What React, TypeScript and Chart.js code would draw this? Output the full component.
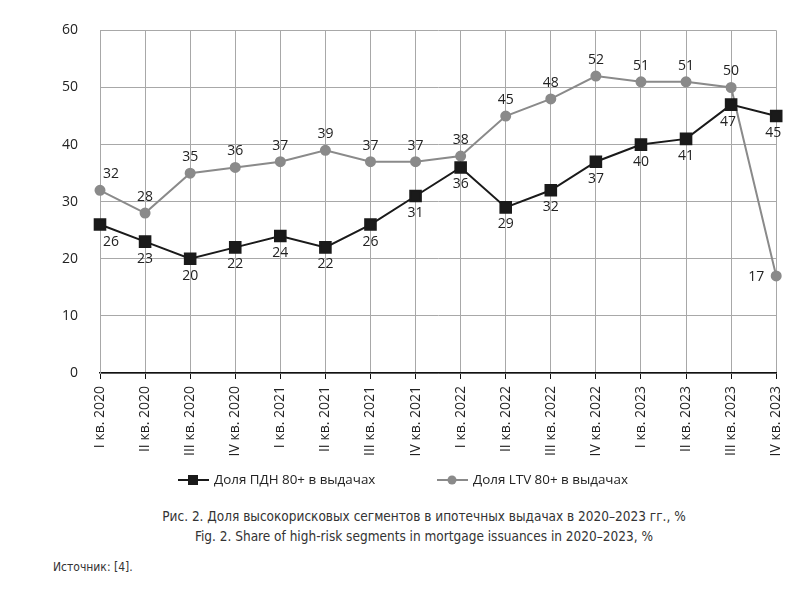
import { useEffect, useRef } from 'react';
import { Chart, registerables } from 'chart.js';

Chart.register(...registerables);

const quarters = [
  'I кв. 2020', 'II кв. 2020', 'III кв. 2020', 'IV кв. 2020',
  'I кв. 2021', 'II кв. 2021', 'III кв. 2021', 'IV кв. 2021',
  'I кв. 2022', 'II кв. 2022', 'III кв. 2022', 'IV кв. 2022',
  'I кв. 2023', 'II кв. 2023', 'III кв. 2023', 'IV кв. 2023',
];
const pdnShare = [26, 23, 20, 22, 24, 22, 26, 31, 36, 29, 32, 37, 40, 41, 47, 45];
const ltvShare = [32, 28, 35, 36, 37, 39, 37, 37, 38, 45, 48, 52, 51, 51, 50, 17];
const yTicks = [0, 10, 20, 30, 40, 50, 60];

const FONT = '"Open Sans", "Noto Sans", sans-serif';

// value labels next to each point
const valueLabels = {
  id: 'valueLabels',
  afterDatasetsDraw(chart: Chart) {
    const ctx = chart.ctx;
    ctx.save();
    ctx.font = `14px ${FONT}`;
    ctx.fillStyle = '#222';
    ctx.textAlign = 'center';
    ctx.textBaseline = 'middle';
    chart.data.datasets.forEach((ds, di) => {
      const meta = chart.getDatasetMeta(di);
      const last = meta.data.length - 1;
      meta.data.forEach((pt, i) => {
        let dx = 0;
        let dy = di === 0 ? 17 : -16;
        if (i === 0) dx = 11;
        if (di === 0 && i >= last - 1) dx = -3;
        if (di === 1 && i === last) { dx = -20; dy = 1; }
        ctx.fillText(String((ds.data as number[])[i]), pt.x + dx, pt.y + dy);
      });
    });
    ctx.restore();
  },
};

// legend with line + marker, like the original figure
const lineLegend = {
  id: 'lineLegend',
  afterDraw(chart: Chart) {
    const ctx = chart.ctx;
    const y = 480;
    const items = [
      { x: 178, color: '#1a1a1a', shape: 'rect', text: chart.data.datasets[0].label },
      { x: 437, color: '#8a8a8a', shape: 'circle', text: chart.data.datasets[1].label },
    ];
    ctx.save();
    items.forEach((it) => {
      ctx.strokeStyle = it.color;
      ctx.fillStyle = it.color;
      ctx.lineWidth = 2;
      ctx.beginPath();
      ctx.moveTo(it.x, y);
      ctx.lineTo(it.x + 31, y);
      ctx.stroke();
      if (it.shape === 'rect') {
        ctx.fillRect(it.x + 10, y - 5, 10, 10);
      } else {
        ctx.beginPath();
        ctx.arc(it.x + 15, y, 4.5, 0, Math.PI * 2);
        ctx.fill();
      }
      ctx.fillStyle = '#222';
      ctx.font = `13.4px ${FONT}`;
      ctx.textAlign = 'left';
      ctx.textBaseline = 'middle';
      ctx.fillText(it.text || '', it.x + 36, y);
    });
    ctx.restore();
  },
};

function RiskChart() {
  const canvasRef = useRef<HTMLCanvasElement | null>(null);
  const chartRef = useRef<Chart | null>(null);

  useEffect(() => {
    const canvas = canvasRef.current;
    if (!canvas) return;
    const ctx = canvas.getContext('2d');
    if (!ctx) return;

    chartRef.current = new Chart(ctx, {
      type: 'line',
      data: {
        labels: quarters,
        datasets: [
          {
            label: 'Доля ПДН 80+ в выдачах',
            data: pdnShare,
            borderColor: '#1a1a1a',
            backgroundColor: '#1a1a1a',
            borderWidth: 2,
            pointStyle: 'rect',
            pointRadius: 7.5,
            tension: 0,
          },
          {
            label: 'Доля LTV 80+ в выдачах',
            data: ltvShare,
            borderColor: '#8a8a8a',
            backgroundColor: '#8a8a8a',
            borderWidth: 2,
            pointStyle: 'circle',
            pointRadius: 4.5,
            tension: 0,
          },
        ],
      },
      options: {
        animation: false,
        responsive: true,
        maintainAspectRatio: false,
        layout: { padding: { top: 29, right: 23, left: 0, bottom: 0 } },
        plugins: { legend: { display: false }, tooltip: { enabled: false } },
        scales: {
          x: {
            offset: false,
            grid: { color: '#a8a8a8', lineWidth: 1, tickColor: '#111', tickLength: 6 },
            border: { color: '#111', width: 1.5 },
            ticks: {
              color: '#222',
              font: { family: FONT, size: 14 },
              minRotation: 90,
              maxRotation: 90,
              autoSkip: false,
              padding: 7,
            },
            afterFit: (s: any) => { s.height = 127; },
          },
          y: {
            min: 0,
            max: 60,
            afterBuildTicks: (s: any) => { s.ticks = yTicks.map((v) => ({ value: v })); },
            grid: { color: '#a8a8a8', lineWidth: 1, drawTicks: false },
            border: { color: '#a8a8a8', width: 1 },
            ticks: { color: '#222', font: { family: FONT, size: 14 }, padding: 22 },
            afterFit: (s: any) => { s.width = 100; },
          },
        },
      },
      plugins: [valueLabels, lineLegend],
    });

    return () => {
      chartRef.current?.destroy();
      chartRef.current = null;
    };
  }, []);

  return (
    <div style={{ position: 'relative', width: 800, height: 500 }}>
      <canvas ref={canvasRef} />
    </div>
  );
}

export default function App() {
  useEffect(() => {
    document.body.style.margin = '0';
    document.body.style.background = '#fff';
  }, []);

  const caption: React.CSSProperties = {
    position: 'absolute',
    left: 0,
    width: 848,
    textAlign: 'center',
    fontFamily: '"Liberation Sans Narrow", "DejaVu Sans Condensed", sans-serif',
    fontSize: 13.5,
    color: '#333',
    whiteSpace: 'nowrap',
  };

  return (
    <div style={{ position: 'relative', width: 800, height: 593, background: '#fff' }}>
      <RiskChart />
      <div style={{ ...caption, top: 508 }}>
        Рис. 2. Доля высокорисковых сегментов в ипотечных выдачах в 2020–2023 гг., %
      </div>
      <div style={{ ...caption, top: 528 }}>
        Fig. 2. Share of high-risk segments in mortgage issuances in 2020–2023, %
      </div>
      <div style={{ ...caption, top: 560, left: 53, width: 'auto', textAlign: 'left', fontSize: 12 }}>
        Источник: [4].
      </div>
    </div>
  );
}
